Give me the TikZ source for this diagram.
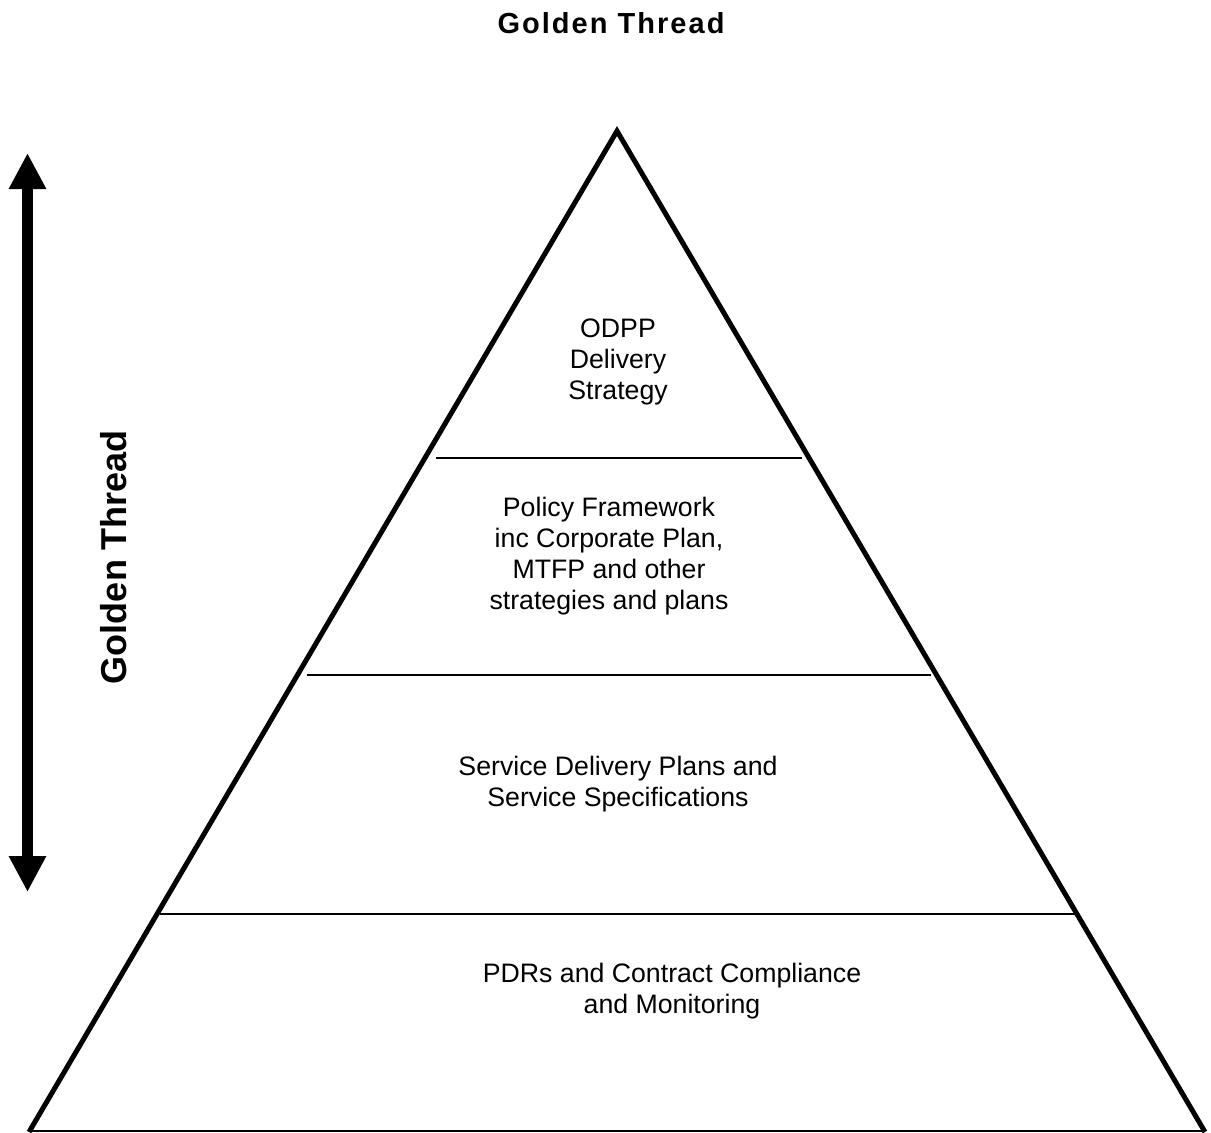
\documentclass[tikz,border=0pt]{standalone}
\usepackage{fontspec}
\setmainfont{Liberation Sans}
\newfontfamily\spacedfont[LetterSpace=7]{Liberation Sans}
\usetikzlibrary{arrows.meta}

\tikzset{
  edge/.style={line width=5pt, line join=miter},
  tier/.style={line width=2pt},
  label/.style={align=center, inner sep=0pt,
    font=\fontsize{26.7}{31}\selectfont},
  thread/.style={line width=11.6pt,
    {Triangle[width=35pt,length=36pt]}-{Triangle[width=35pt,length=36pt]}}
}

\begin{document}
\begin{tikzpicture}[x=1pt, y=-1pt]
  \useasboundingbox (0,0) rectangle (1211,1133);

  % pyramid outline
  \coordinate (apex) at (617,131);
  \coordinate (bl) at (29,1132);
  \coordinate (br) at (1205,1132);
  \draw[edge] (bl) -- (apex) -- (br);
  \draw[tier] (29,1131) -- (1205,1131);

  % tier dividers
  \draw[tier] (436,458) -- (802,458);
  \draw[tier] (307,675) -- (931,675);
  \draw[tier] (160,914) -- (1077,914);

  % tier texts
  \node[label] (odpp) at (618,362) {ODPP\\Delivery\\Strategy};
  \node[label] (policy) at (609,556) {Policy Framework\\inc Corporate Plan,\\MTFP and other\\strategies and plans};
  \node[label] (service) at (618,784) {Service Delivery Plans and\\Service Specifications};
  \node[label] (pdr) at (672,991) {PDRs and Contract Compliance\\and Monitoring};

  % title
  \node[inner sep=0pt, font={\spacedfont\bfseries\fontsize{29}{32}\selectfont}] (title) at (611,23) {Golden Thread};

  % side arrow and its label
  \coordinate (gtTop) at (27.5,153);
  \coordinate (gtBot) at (27.5,892);
  \draw[thread] (gtTop) -- (gtBot);
  \node[inner sep=0pt, rotate=90, font={\bfseries\fontsize{36}{40}\selectfont}] (side) at (114,557) {Golden Thread};
\end{tikzpicture}
\end{document}
